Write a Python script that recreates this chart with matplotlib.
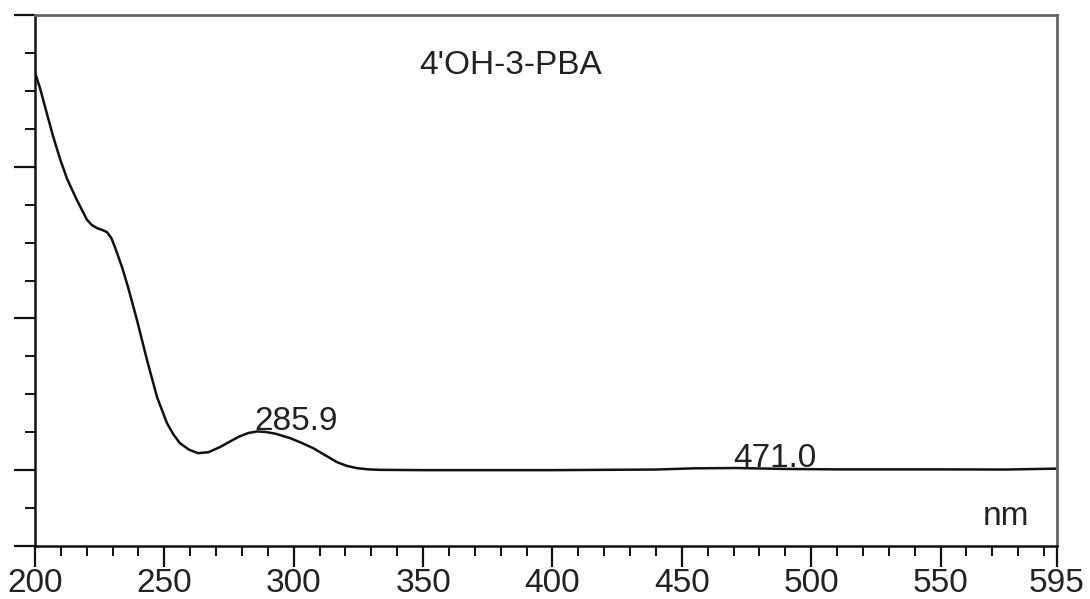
import matplotlib.pyplot as plt
from matplotlib.ticker import MultipleLocator

plt.rcParams['font.family'] = ['Liberation Sans', 'DejaVu Sans']

# UV-Vis absorption spectrum (wavelength in nm, absorbance in arbitrary units)
wavelength = [200, 201.9, 204.6, 207.0, 209.7, 212.4, 216.2, 220.1, 222.0, 224.0,
              226.0, 227.8, 229.5, 230.9, 233.6, 235.9, 239.4, 243.3, 247.2, 251.0,
              253.5, 256.0, 259.5, 263.0, 267.0, 271.5, 275.5, 279.0, 282.5, 285.9,
              289.0, 293.0, 298.6, 303.0, 307.5, 312.0, 316.7, 320.5, 324.5, 329.0,
              333.3, 350, 400, 440, 455, 471.0, 490, 510, 550, 575, 595]
absorbance = [2.62, 2.52, 2.35, 2.20, 2.05, 1.92, 1.78, 1.65, 1.615, 1.595,
              1.583, 1.569, 1.53, 1.47, 1.34, 1.21, 0.99, 0.725, 0.48, 0.31,
              0.235, 0.178, 0.135, 0.112, 0.118, 0.152, 0.19, 0.222, 0.245, 0.255,
              0.252, 0.24, 0.211, 0.18, 0.145, 0.10, 0.053, 0.028, 0.013, 0.005,
              0.002, 0.0, 0.0, 0.004, 0.012, 0.014, 0.008, 0.005, 0.005, 0.004, 0.01]

peak_labels = [285.9, 471.0]
sample_name = "4'OH-3-PBA"

fig = plt.figure(figsize=(10.9, 5.99), dpi=100)
ax = fig.add_axes([35 / 1090, 53 / 599, 1022 / 1090, 531 / 599])

ax.plot(wavelength, absorbance, color='#111111', lw=1.8)

# peak annotations sit just above the curve, left-aligned at the peak
for p in peak_labels:
    i = wavelength.index(p)
    ax.annotate(f'{p:.1f}', xy=(p, absorbance[i]), xytext=(-2, 1),
                textcoords='offset points', ha='left', va='baseline',
                fontsize=24, color='#222222')

ax.text(0.465, 0.905, sample_name, transform=ax.transAxes, ha='center',
        va='center', fontsize=24, color='#222222')
ax.text(0.973, 0.055, 'nm', transform=ax.transAxes, ha='right',
        va='center', fontsize=24, color='#222222')

ax.set_xlim(200, 595)
ax.set_ylim(-0.5, 3.0)
ax.set_xticks([200, 250, 300, 350, 400, 450, 500, 550, 595])
ax.xaxis.set_minor_locator(MultipleLocator(10))
ax.set_yticks([-0.5, 0, 1, 2, 3])
ax.set_yticklabels([])
ax.yaxis.set_minor_locator(MultipleLocator(0.25))

ax.tick_params(axis='both', which='major', direction='out', length=15,
               width=1.6, color='#111111', labelsize=24, labelcolor='#222222')
ax.tick_params(axis='both', which='minor', direction='out', length=7,
               width=1.4, color='#111111')
ax.tick_params(axis='x', pad=1)

for side in ['left', 'bottom']:
    ax.spines[side].set_color('#111111')
    ax.spines[side].set_linewidth(1.8)
for side in ['top', 'right']:
    ax.spines[side].set_color('#666666')
    ax.spines[side].set_linewidth(2.0)

fig.savefig('out.png', dpi=100)
